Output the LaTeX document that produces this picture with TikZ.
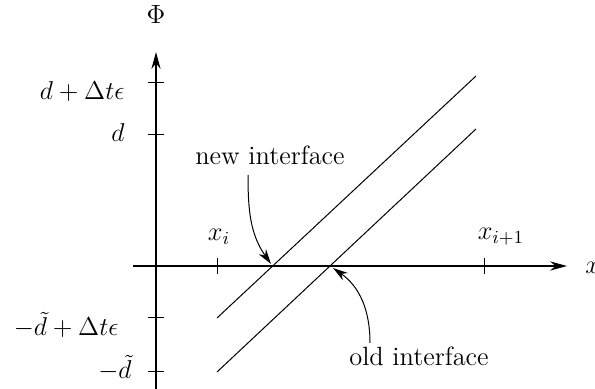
\RequirePackage{fix-cm}
\documentclass[tikz,border=0pt]{standalone}
\usetikzlibrary{arrows.meta}
\begin{document}
\begin{tikzpicture}[x=0.5pt,y=-0.5pt,
  font=\fontsize{13.2}{16}\selectfont,
  axis/.style={line width=0.6pt,-{Stealth[length=8.5pt,width=4.6pt,inset=2.8pt]}},
  tickmark/.style={line width=0.5pt},
  iface/.style={line width=0.5pt},
  pointer/.style={line width=0.5pt,-{Stealth[length=7.5pt,width=4.4pt,inset=2.4pt]}},
  lab/.style={inner sep=0pt},
  ylab/.style={inner sep=0pt,anchor=base east,font=\fontsize{12.9}{15}\selectfont}]
\useasboundingbox (0,0) rectangle (595,389);
% axes
\coordinate (ybot) at (156,389);
\coordinate (ytop) at (156,52);
\coordinate (xl) at (133,266);
\coordinate (xr) at (567,266);
\draw[axis] (ybot) -- (ytop);
\draw[axis] (xl) -- (xr);
\node[lab] (phi) at (156,14) {$\Phi$};
\node[lab,anchor=west] (xlab) at (585,268) {$x$};
% y ticks
\draw[tickmark] (148,83) -- (164,83);
\draw[tickmark] (148,135) -- (164,135);
\draw[tickmark] (148,318) -- (164,318);
\draw[tickmark] (148,372) -- (164,372);
\node[ylab] (l1) at (125,100) {$d+\Delta t\epsilon$};
\node[ylab] (l2) at (125,142) {$d$};
\node[ylab] (l3) at (119,336) {$-\tilde d+\Delta t\epsilon$};
\node[ylab] (l4) at (132,379) {$-\tilde d$};
% x ticks
\draw[tickmark] (217,258) -- (217,274);
\draw[tickmark] (484,258) -- (484,274);
\node[lab] (xi) at (219,237) {$x_i$};
\node[lab] (xip) at (501,237) {$x_{i+1}$};
% interfaces
\coordinate (n1) at (217,318);
\coordinate (n2) at (476,76);
\coordinate (o1) at (217,372);
\coordinate (o2) at (476,129);
\draw[iface] (n1) -- (n2);
\draw[iface] (o1) -- (o2);
% labels and pointers
\node[lab] (newl) at (270,155) {new interface};
\node[lab] (oldl) at (419,356) {old interface};
\coordinate (ns) at (248,175);
\coordinate (nt) at (271,264);
\coordinate (os) at (370,343);
\coordinate (ot) at (333,268);
\draw[pointer] (ns) to[out=-90,in=125] (nt);
\draw[pointer] (os) to[out=90,in=-35] (ot);
\end{tikzpicture}
\end{document}
